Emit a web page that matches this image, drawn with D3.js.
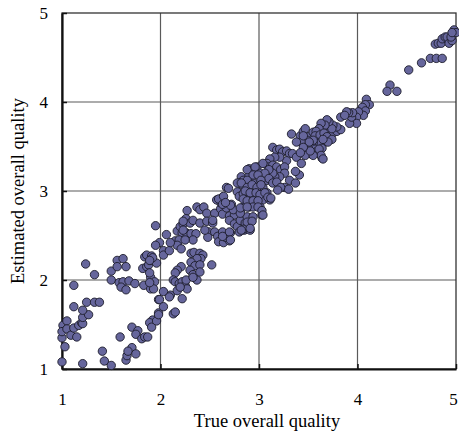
<!DOCTYPE html>
<html>
<head>
<meta charset="utf-8">
<title>Estimated vs true overall quality</title>
<style>
  body { margin: 0; background: #fff; }
  svg { display: block; }
</style>
</head>
<body>
<main></main>
<script src="https://cdn.jsdelivr.net/npm/d3@7/dist/d3.min.js"></script>
<script>

// true overall quality (x) and estimated overall quality (y)
var trueQ = [
  1.00,1.21,1.41,1.43,1.50,1.65,1.66,1.71,1.67,1.75,1.59,1.71,1.77,1.75,1.81,1.84,1.87,1.03,1.00,1.01,
  1.00,1.05,1.05,1.09,1.15,1.12,1.17,1.20,1.21,1.21,1.27,1.21,1.12,1.25,1.33,1.38,1.12,1.24,1.33,1.50,
  1.50,1.56,1.62,1.56,1.65,1.58,1.62,1.68,1.60,1.65,1.74,1.82,1.86,1.88,1.90,1.84,1.86,1.91,1.96,1.90,
  1.83,1.90,1.94,1.98,1.98,1.92,1.89,1.91,1.96,
  1.95,2.06,1.99,1.95,2.03,2.03,2.09,1.92,1.89,2.17,2.20,2.23,2.26,2.27,2.22,2.26,2.31,2.36,2.30,2.33,
  2.15,2.19,2.17,2.21,2.10,2.37,2.40,2.44,2.47,2.40,2.47,2.53,2.49,2.55,2.58,2.59,2.64,2.70,2.63,2.66,
  2.71,2.55,2.61,2.63,2.70,2.75,2.70,2.75,2.78,2.81,2.80,2.85,2.86,2.88,2.81,2.90,2.84,2.72,2.61,
  2.31,2.34,2.40,2.43,2.41,2.37,2.31,2.35,2.40,2.52,2.30,2.33,2.37,2.40,2.21,2.17,2.15,2.13,2.15,2.19,
  2.22,2.25,2.27,2.22,2.10,2.03,1.99,2.03,2.09,1.93,1.89,1.89,2.17,1.98,2.13,2.15,
  2.23,2.23,2.33,2.25,2.26,2.33,2.20,2.53,2.48,2.45,2.57,2.63,2.67,2.74,2.81,2.91,2.70,2.71,2.63,
  2.67,2.82,2.84,2.80,2.83,2.90,2.90,2.91,2.59,2.64,2.63,2.71,2.66,2.78,2.80,2.84,2.90,2.81,2.90,
  2.88,2.91,2.94,2.98,2.88,3.01,2.94,2.98,3.04,3.08,3.11,3.08,3.04,3.11,3.01,3.03,2.91,2.78,2.69,
  3.33,3.42,3.45,3.51,3.55,3.59,3.65,3.69,3.72,3.67,3.61,3.55,3.49,3.43,3.38,3.49,3.53,3.57,3.64,3.52,
  3.47,3.58,3.64,3.75,3.79,
  3.14,3.18,3.21,3.24,3.28,3.31,3.34,3.38,3.43,3.41,3.37,3.31,3.26,3.30,3.37,3.28,3.21,3.16,3.11,3.08,
  3.10,3.14,3.18,3.22,3.26,3.26,3.21,3.16,3.14,3.10,3.04,3.01,3.06,3.10,3.14,3.18,3.22,3.19,
  2.96,2.94,2.99,3.02,2.88,2.82,2.88,2.93,2.98,3.02,2.86,2.91,2.97,3.01,3.06,3.09,3.12,2.84,2.88,2.94,
  2.99,2.94,2.88,2.99,3.03,3.04,2.94,2.88,2.93,2.84,2.82,2.91,
  4.09,4.12,4.08,4.05,4.08,4.06,4.01,3.99,3.99,3.92,3.94,3.95,3.91,3.89,3.83,3.87,3.83,3.79,3.75,3.74,
  3.71,3.69,3.67,3.63,3.61,3.58,3.57,3.62,3.66,3.69,3.74,3.70,3.65,3.55,3.51,3.47,3.45,3.61,3.63,3.55,
  3.52,3.45,3.42,3.65,
  4.33,4.30,4.40,4.52,4.65,4.74,4.80,4.86,4.79,4.82,4.85,4.86,4.89,4.91,4.93,4.96,4.95,4.98,5.00,4.96
];
var estQ = [
  1.08,1.06,1.20,1.09,1.04,1.10,1.15,1.24,1.20,1.17,1.36,1.47,1.43,1.39,1.34,1.36,1.36,1.25,1.35,1.49,
  1.42,1.54,1.45,1.38,1.36,1.46,1.49,1.52,1.51,1.58,1.61,1.66,1.70,1.75,1.75,1.75,1.94,2.18,2.06,2.10,
  2.00,2.22,2.24,2.15,2.15,1.97,1.98,1.99,1.92,1.89,1.96,2.13,2.15,2.17,2.22,2.26,2.28,2.27,2.19,2.03,
  1.94,1.90,1.98,1.78,1.63,1.55,1.52,1.47,1.54,
  2.61,2.51,2.42,2.39,2.33,2.28,2.33,2.25,2.22,2.55,2.60,2.63,2.69,2.78,2.53,2.53,2.52,2.52,2.64,2.67,
  2.44,2.45,2.39,2.35,2.42,2.82,2.79,2.82,2.75,2.64,2.66,2.64,2.54,2.54,2.49,2.43,2.42,2.44,2.54,2.48,
  2.53,2.75,2.80,2.74,2.72,2.73,2.67,2.63,2.60,2.67,2.54,2.56,2.64,2.71,2.78,2.82,2.82,2.85,2.87,
  2.30,2.31,2.30,2.28,2.24,2.24,2.20,2.16,2.17,2.17,2.11,2.06,2.00,2.09,2.15,2.11,2.08,2.00,1.98,1.96,
  1.98,1.94,1.90,1.79,1.83,1.87,1.78,1.70,1.81,1.90,1.97,2.08,1.88,1.61,1.62,1.64,
  2.66,2.56,2.45,2.45,2.00,2.03,1.92,2.67,2.48,2.56,2.90,2.93,2.81,2.79,2.75,2.56,2.54,2.45,2.49,
  3.04,3.16,3.12,3.09,3.07,3.25,3.17,3.10,2.91,2.94,2.85,2.84,2.87,2.99,2.94,2.97,2.98,2.81,2.83,
  3.01,3.12,3.24,3.27,3.24,3.16,3.09,2.98,3.04,3.12,3.24,2.98,2.90,2.90,2.82,2.73,2.93,3.09,3.03,
  3.64,3.62,3.67,3.61,3.66,3.61,3.63,3.65,3.60,3.55,3.54,3.54,3.57,3.55,3.55,3.49,3.52,3.47,3.48,3.42,
  3.40,3.44,3.37,3.65,3.67,
  3.49,3.46,3.47,3.44,3.45,3.42,3.42,3.38,3.31,3.18,3.22,3.12,3.04,3.02,3.09,3.34,3.38,3.38,3.36,3.31,
  3.27,3.29,3.27,3.24,3.27,3.20,3.16,3.16,3.20,3.24,3.31,3.20,3.20,3.14,3.09,3.10,3.04,3.01,
  3.27,3.18,3.18,3.12,3.12,3.09,3.04,3.07,3.04,3.07,3.00,2.98,2.98,2.96,2.98,2.93,2.92,2.91,2.89,2.89,
  2.89,2.82,2.82,2.82,2.78,2.73,2.71,2.65,2.66,2.57,2.56,2.58,
  4.03,3.97,3.97,3.94,3.90,3.85,3.89,3.83,3.76,3.76,3.83,3.88,3.88,3.89,3.83,3.85,3.69,3.72,3.74,3.70,
  3.78,3.80,3.74,3.76,3.70,3.67,3.62,3.63,3.65,3.61,3.58,3.55,3.58,3.57,3.55,3.70,3.62,3.47,3.40,3.40,
  3.45,3.49,3.43,3.36,
  4.19,4.12,4.12,4.36,4.44,4.49,4.49,4.49,4.65,4.66,4.66,4.71,4.73,4.73,4.66,4.69,4.73,4.81,4.78,4.78
];
var xTicks = [1, 2, 3, 4, 5];
var yTicks = [1, 2, 3, 4, 5];
var xTitle = "True overall quality";
var yTitle = "Estimated overall quality";

var width = 459;
var height = 439;
var margin = {top: 13, right: 3, bottom: 70, left: 62};
var w = width - margin.left - margin.right;   // 394
var h = height - margin.top - margin.bottom;  // 356

var points = trueQ.map(function (d, i) { return {x: d, y: estQ[i]}; });

var svg = d3.select("main").append("svg")
    .attr("width", width)
    .attr("height", height)
    .style("font-family", "'Liberation Serif', 'Times New Roman', serif");

var g = svg.append("g")
    .attr("transform", "translate(" + margin.left + "," + margin.top + ")");

var x = d3.scaleLinear().domain([1, 5]).range([0, w]);
var y = d3.scaleLinear().domain([1, 5]).range([h, 0]);

// grid lines
g.append("g").selectAll("line.gx")
    .data(xTicks.slice(1, -1))
    .enter().append("line")
    .attr("x1", function (d) { return x(d); })
    .attr("x2", function (d) { return x(d); })
    .attr("y1", 0).attr("y2", h)
    .attr("stroke", "#5a5a5a").attr("stroke-width", 1.2);

g.append("g").selectAll("line.gy")
    .data(yTicks.slice(1, -1))
    .enter().append("line")
    .attr("x1", 0).attr("x2", w)
    .attr("y1", function (d) { return y(d); })
    .attr("y2", function (d) { return y(d); })
    .attr("stroke", "#5a5a5a").attr("stroke-width", 1.2);

// frame
g.append("rect")
    .attr("width", w).attr("height", h)
    .attr("fill", "none")
    .attr("stroke", "#333").attr("stroke-width", 1.3);

// axes (ticks point inward)
var xAxis = g.append("g")
    .attr("transform", "translate(0," + h + ")")
    .call(d3.axisBottom(x).tickValues(xTicks).tickSizeInner(-5).tickSizeOuter(0).tickPadding(24).tickFormat(d3.format("d")));
var yAxis = g.append("g")
    .call(d3.axisLeft(y).tickValues(yTicks).tickSizeInner(-5).tickSizeOuter(0).tickPadding(14).tickFormat(d3.format("d")));

[xAxis, yAxis].forEach(function (a) {
    a.select(".domain").attr("stroke", "#111").attr("stroke-width", 2.2);
    a.selectAll(".tick line").attr("stroke", "#111").attr("stroke-width", 1.5);
    a.selectAll(".tick text")
        .attr("fill", "#000")
        .style("font-family", "'Liberation Serif', 'Times New Roman', serif")
        .style("font-size", "17px");
});
// keep the last x label inside the page
xAxis.selectAll(".tick text").filter(function (d) { return d === 5; }).attr("dx", "-3");

// points
g.append("g").selectAll("circle")
    .data(points)
    .enter().append("circle")
    .attr("cx", function (d) { return x(d.x); })
    .attr("cy", function (d) { return y(d.y); })
    .attr("r", 4.2)
    .attr("fill", "#66669c")
    .attr("stroke", "#1c1c2a")
    .attr("stroke-width", 0.9);

// titles
svg.append("text")
    .attr("x", margin.left + w / 2 + 8)
    .attr("y", 427)
    .attr("text-anchor", "middle")
    .style("font-size", "18.5px")
    .text(xTitle);

svg.append("text")
    .attr("transform", "translate(24," + (margin.top + h / 2) + ") rotate(-90)")
    .attr("text-anchor", "middle")
    .style("font-size", "18.5px")
    .text(yTitle);
</script>
</body>
</html>
